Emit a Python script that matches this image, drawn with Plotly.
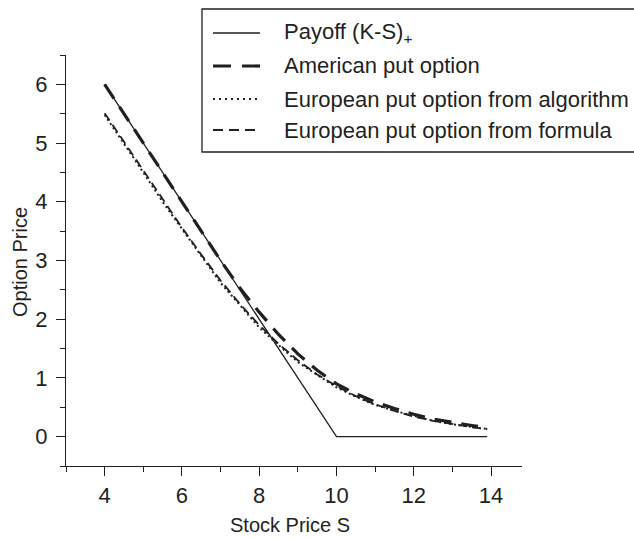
import plotly.graph_objects as go

# ---- data ----
stock_price = [4.0, 4.5, 5.0, 5.5, 6.0, 6.5, 7.0, 7.5, 8.0, 8.5, 9.0, 9.5,
               10.0, 10.5, 11.0, 11.5, 12.0, 12.5, 13.0, 13.5, 13.9]
payoff = [6.0, 5.5, 5.0, 4.5, 4.0, 3.5, 3.0, 2.5, 2.0, 1.5, 1.0, 0.5,
          0.0, 0.0, 0.0, 0.0, 0.0, 0.0, 0.0, 0.0, 0.0]
american_put = [6.0, 5.5, 5.0, 4.5, 4.0, 3.5, 3.0, 2.53, 2.12, 1.74, 1.41, 1.13,
                0.9, 0.73, 0.59, 0.48, 0.38, 0.3, 0.24, 0.19, 0.15]
european_algo = [5.48, 5.0, 4.5, 4.0, 3.53, 3.08, 2.62, 2.24, 1.86, 1.56, 1.27, 1.05,
                 0.84, 0.68, 0.54, 0.44, 0.35, 0.27, 0.21, 0.16, 0.13]
european_formula = [5.51, 5.02, 4.52, 4.04, 3.56, 3.1, 2.66, 2.26, 1.9, 1.58, 1.3, 1.06,
                    0.86, 0.69, 0.55, 0.44, 0.34, 0.27, 0.21, 0.16, 0.13]

series_names = ["Payoff (K-S)<sub><span style=\"color:#231f20\">+</span></sub>",
                "American put option",
                "European put option from algorithm", "European put option from formula"]
x_title = "Stock Price S"
y_title = "Option Price"

x_major = [4, 6, 8, 10, 12, 14]
x_minor = [3, 5, 7, 9, 11, 13]
y_major = [0, 1, 2, 3, 4, 5, 6]
y_minor = [-0.5, 0.5, 1.5, 2.5, 3.5, 4.5, 5.5, 6.5]

# ---- layout geometry ----
W, H = 634, 538
L, R, T, B = 66, 112, 55, 72
PW, PH = W - L - R, H - T - B
INK = "#231f20"
FONT = "Liberation Sans, Arial"

def px(xp):
    return (xp - L) / PW

def py(yp):
    return (H - B - yp) / PH

styles = [
    dict(color=INK, width=1.3, dash="solid"),
    dict(color=INK, width=3.2, dash="17px,10px"),
    dict(color=INK, width=2.0, dash="2px,3px"),
    dict(color=INK, width=1.8, dash="9px,5px"),
]
series = [payoff, american_put, european_algo, european_formula]

fig = go.Figure()
for name, vals, st in zip(series_names, series, styles):
    fig.add_trace(go.Scatter(x=stock_price, y=vals, mode="lines", name=name,
                             line=st, showlegend=False))

# ---- manual legend ----
shapes = [dict(type="rect", xref="paper", yref="paper",
               x0=px(202), x1=px(W + 10), y0=py(152), y1=py(9),
               line=dict(color=INK, width=1.3), fillcolor="white", layer="above")]
annotations = []
legend_dash = ["solid", "18px,11px", "2px,4px", "10px,6px"]
row_y = [33, 66, 99, 130]
for name, st, d, ry in zip(series_names, styles, legend_dash, row_y):
    shapes.append(dict(type="line", xref="paper", yref="paper",
                       x0=px(213), x1=px(260), y0=py(ry), y1=py(ry),
                       line=dict(color=INK, width=st["width"], dash=d), layer="above"))
    annotations.append(dict(xref="paper", yref="paper", x=px(282), y=py(ry),
                            xanchor="left", yanchor="middle", showarrow=False,
                            text=name, font=dict(size=22, color=INK, family=FONT)))

# axis titles
annotations.append(dict(xref="paper", yref="paper", x=px(290), y=py(525),
                        xanchor="center", yanchor="middle", showarrow=False,
                        text=x_title, font=dict(size=20, color=INK, family=FONT)))
annotations.append(dict(xref="paper", yref="paper", x=px(20), y=py(262),
                        xanchor="center", yanchor="middle", showarrow=False, textangle=-90,
                        text=y_title, font=dict(size=20, color=INK, family=FONT)))

def axis_common():
    return dict(showline=True, linecolor=INK, linewidth=1.4, ticks="outside",
                tickcolor=INK, tickwidth=1.4, ticklen=9, showgrid=False,
                zeroline=False, automargin=False,
                tickfont=dict(size=22, color=INK, family=FONT),
                minor=dict(ticks="outside", ticklen=5, tickcolor=INK, tickwidth=1.4,
                           showgrid=False))

fig.update_layout(
    width=W, height=H,
    margin=dict(l=L, r=R, t=T, b=B),
    paper_bgcolor="white", plot_bgcolor="white",
    xaxis=dict(range=[3, 14.8], tickvals=x_major, ticklabelstandoff=0, **axis_common()),
    yaxis=dict(range=[-0.5, 6.5], tickvals=y_major, ticklabelstandoff=4, **axis_common()),
    shapes=shapes, annotations=annotations,
)
fig.update_xaxes(minor_tickvals=x_minor)
fig.update_yaxes(minor_tickvals=y_minor)

fig.write_html("out.html")
